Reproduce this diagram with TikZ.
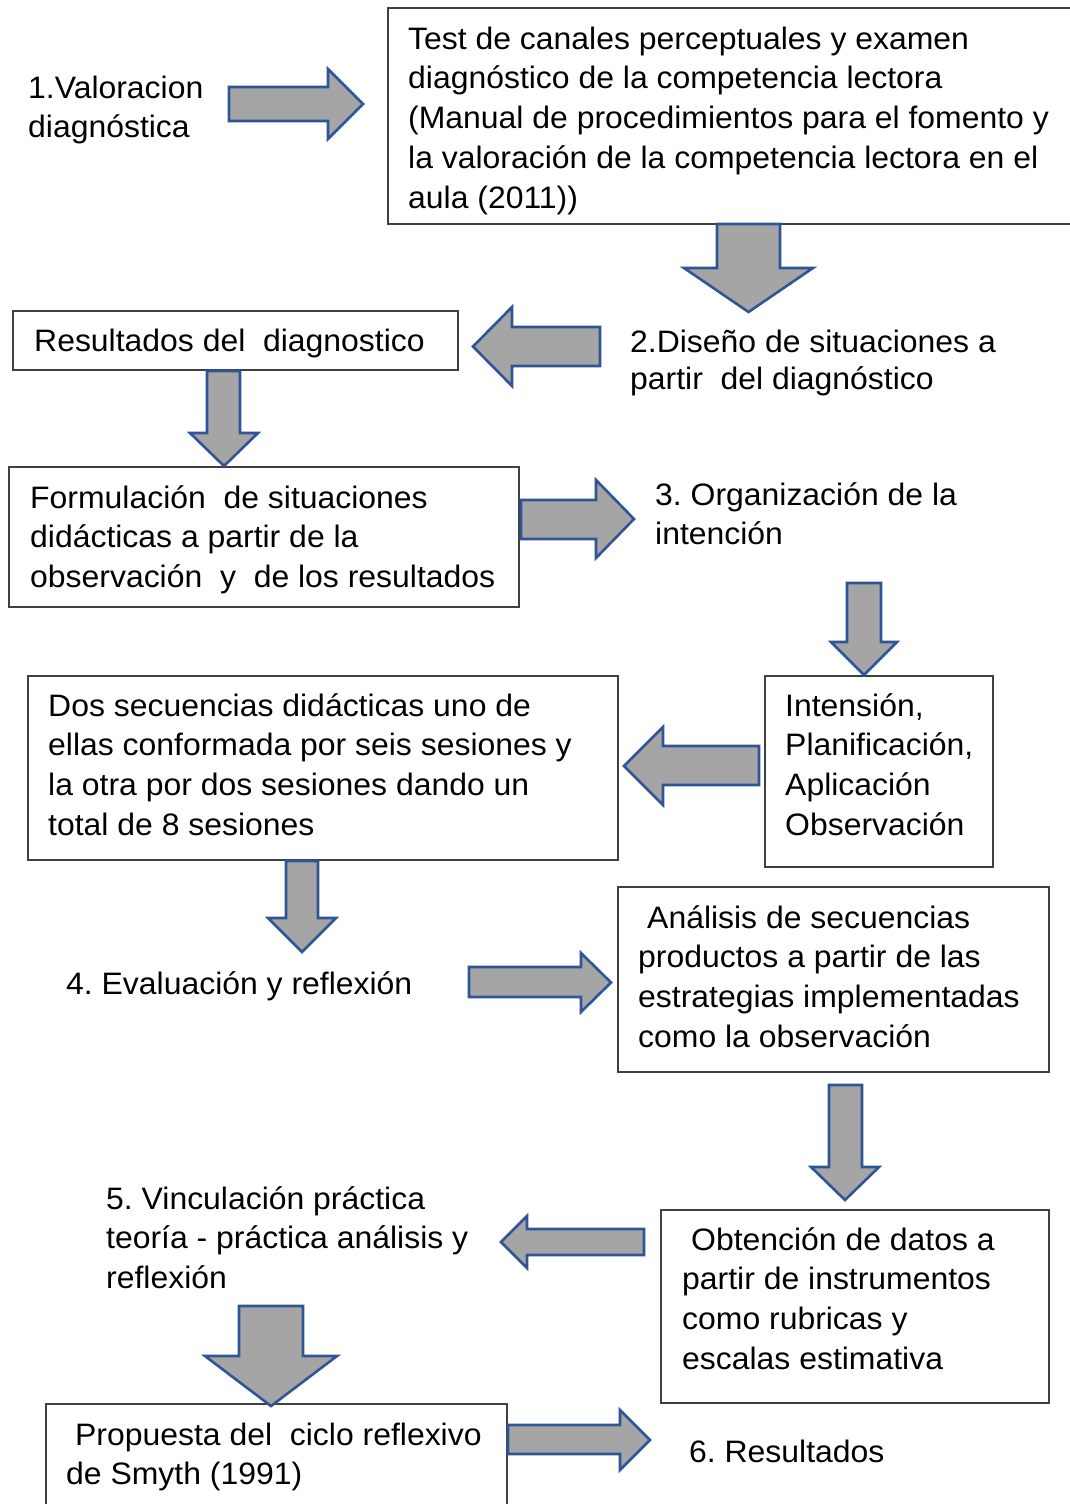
\documentclass[tikz,border=0pt]{standalone}
\usepackage{fontspec}
\setmainfont{Liberation Sans}[FakeStretch=1.03]
\definecolor{arrfill}{HTML}{A5A5A5}
\definecolor{arrline}{HTML}{2F5597}
\definecolor{boxline}{HTML}{404040}
\newcommand\mylines[1]{\vtop{\halign{##\hfil\cr#1\crcr}}}
\newcommand\myarrH[7]{\draw[blk] (#1,#4) -- (#2,#4) -- (#2,#6) -- (#3,{(#6+#7)/2}) -- (#2,#7) -- (#2,#5) -- (#1,#5) -- cycle;}
\newcommand\myarrV[7]{\draw[blk] (#4,#1) -- (#4,#2) -- (#6,#2) -- ({(#6+#7)/2},#3) -- (#7,#2) -- (#5,#2) -- (#5,#1) -- cycle;}
\begin{document}
\frenchspacing
\begin{tikzpicture}[x=1pt,y=-1pt,
  blk/.style={fill=arrfill,draw=arrline,line width=2.6pt,line join=miter},
  box/.style={draw=boxline,line width=1.3pt},
  txt/.style={inner sep=0pt,anchor=base west,font=\fontsize{31}{39.8}\selectfont}]
\useasboundingbox (0,0) rectangle (1070,1504);
\clip (0,0) rectangle (1070,1504);
\fill[white] (0,0) rectangle (1070,1504);
% boxes
\draw[box] (388,8) rectangle (1080,224);
\draw[box] (13,311) rectangle (458,370);
\draw[box] (9,467) rectangle (519,607);
\draw[box] (765,676) rectangle (993,867);
\draw[box] (28,676) rectangle (618,860);
\draw[box] (618,887) rectangle (1049,1072);
\draw[box] (661,1210) rectangle (1049,1403);
\draw[box] (46,1404) rectangle (507,1520);
% texts
\node[txt] (t1) at (28,98) {\mylines{1.Valoracion\cr diagnóstica}};
\node[txt] (b1) at (408,49) {\mylines{Test de canales perceptuales y examen\cr diagnóstico de la competencia lectora\cr (Manual de procedimientos para el fomento y\cr la valoración de la competencia lectora en el\cr aula (2011))}};
\node[txt] (b2) at (34,351) {Resultados del\ \ diagnostico};
\node[txt,font=\fontsize{31}{37.5}\selectfont] (t2) at (630,352) {\mylines{2.Diseño de situaciones a\cr partir\ \ del diagnóstico}};
\node[txt] (b3) at (30,508) {\mylines{Formulación\ \ de situaciones\cr didácticas a partir de la\cr observación\ \ y\ \ de los resultados}};
\node[txt] (t3) at (655,505) {\mylines{3. Organización de la\cr intención}};
\node[txt] (b4) at (785,716) {\mylines{Intensión,\cr Planificación,\cr Aplicación\cr Observación}};
\node[txt] (b5) at (48,716) {\mylines{Dos secuencias didácticas uno de\cr ellas conformada por seis sesiones y\cr la otra por dos sesiones dando un\cr total de 8 sesiones}};
\node[txt] (t4) at (66,994) {4. Evaluación y reflexión};
\node[txt] (b6) at (638,928) {\mylines{\hspace{9pt}Análisis de secuencias\cr productos a partir de las\cr estrategias implementadas\cr como la observación}};
\node[txt] (b7) at (682,1250) {\mylines{\hspace{9pt}Obtención de datos a\cr partir de instrumentos\cr como rubricas y\cr escalas estimativa}};
\node[txt] (t5) at (106,1209) {\mylines{5. Vinculación práctica\cr teoría - práctica análisis y\cr reflexión}};
\node[txt] (b8) at (66,1445) {\mylines{\hspace{9pt}Propuesta del\ \ ciclo reflexivo\cr de Smyth (1991)}};
\node[txt] (t6) at (689,1462) {6. Resultados};
% block arrows
\myarrH{229}{328}{363}{87}{121}{69}{139}
\myarrV{224}{268}{312}{717}{780}{684}{813}
\myarrH{600}{512}{473}{327}{366}{307}{386}
\myarrV{371}{433}{466}{207}{240}{190}{258}
\myarrH{521}{596}{634}{500}{539}{480}{558}
\myarrV{583}{642}{675}{847}{881}{831}{897}
\myarrH{759}{663}{624}{746}{785}{727}{805}
\myarrV{861}{918}{952}{286}{318}{268}{336}
\myarrH{469}{581}{611}{967}{997}{953}{1012}
\myarrV{1085}{1167}{1200}{829}{862}{811}{879}
\myarrH{644}{527}{501}{1229}{1255}{1216}{1268}
\myarrV{1306}{1356}{1406}{239}{303}{205}{337}
\myarrH{508}{620}{650}{1425}{1454}{1410}{1470}
\end{tikzpicture}
\end{document}
